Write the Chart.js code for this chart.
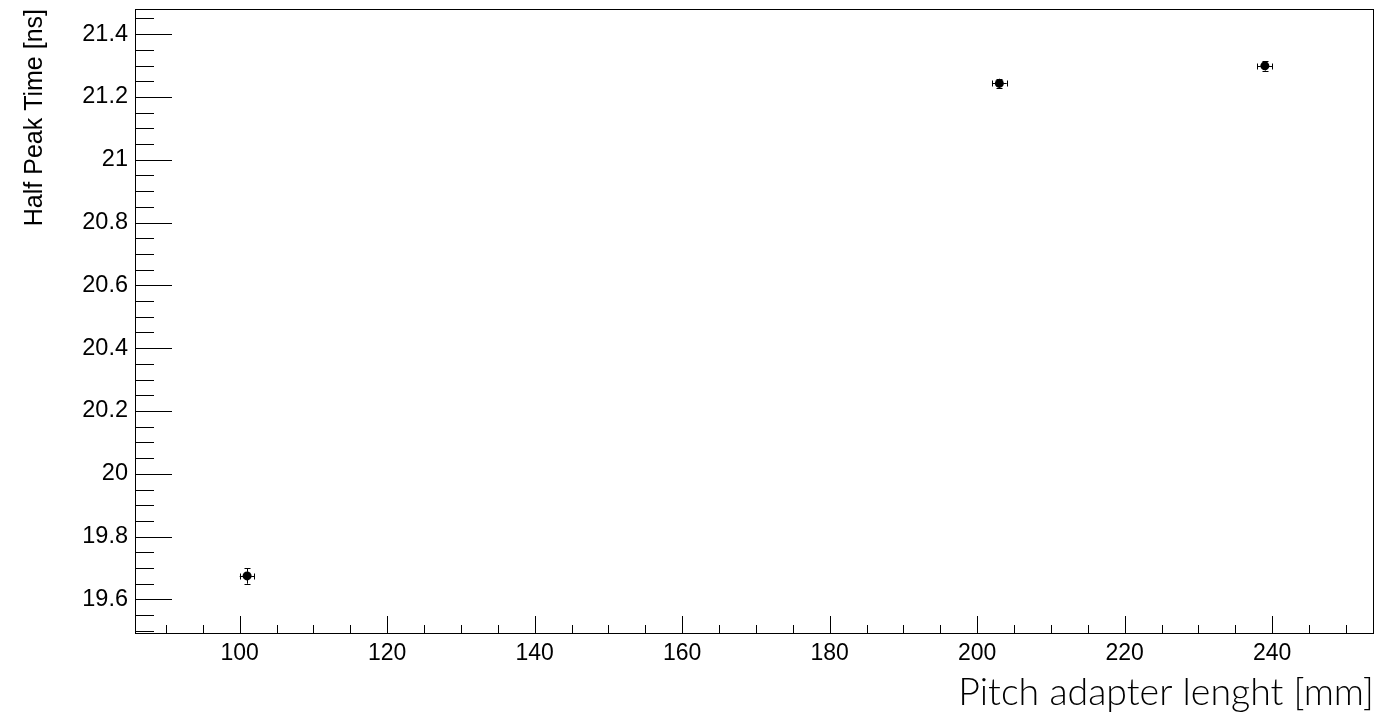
<!DOCTYPE html>
<html>
<head>
<meta charset="utf-8">
<title>Half Peak Time vs Pitch adapter length</title>
<script src="https://cdn.jsdelivr.net/npm/chart.js@4.4.1/dist/chart.umd.min.js"></script>
<style>
  html, body { margin: 0; padding: 0; background: #fff; }
  #wrap { width: 1380px; height: 713px; position: relative; }
</style>
</head>
<body>
<div id="wrap"><canvas id="c" width="1380" height="713"></canvas></div>
<script>
// Measurements: pitch adapter length [mm] vs half peak time [ns]
const pitchLength  = [101, 203, 239];
const lengthErr    = [1, 1, 1];
const halfPeakTime = [19.675, 21.243, 21.299];
const timeErr      = [0.025, 0.015, 0.015];

// Axis ranges and labelled ticks
const xRange = [85.8, 253.8];
const yRange = [19.49, 21.48];
const xTickValues = [100, 120, 140, 160, 180, 200, 220, 240];
const xTickLabels = ['100', '120', '140', '160', '180', '200', '220', '240'];
const yTickValues = [19.6, 19.8, 20.0, 20.2, 20.4, 20.6, 20.8, 21.0, 21.2, 21.4];
const yTickLabels = ['19.6', '19.8', '20', '20.2', '20.4', '20.6', '20.8', '21', '21.2', '21.4'];
const xMinorStep = 5;
const yMinorStep = 0.05;

const points = pitchLength.map((x, i) => ({ x: x, y: halfPeakTime[i], ex: lengthErr[i], ey: timeErr[i] }));

// Frame, inward ticks and error bars in the style of a physics analysis plot
const framePlugin = {
  id: 'frame',
  afterDraw(chart) {
    const ctx = chart.ctx;
    const a = chart.chartArea;
    const xs = chart.scales.x, ys = chart.scales.y;
    ctx.save();
    ctx.strokeStyle = '#000';
    ctx.lineWidth = 1;
    // frame
    ctx.strokeRect(Math.round(a.left) + 0.5, Math.round(a.top) + 0.5,
                   Math.round(a.right - a.left) - 1, Math.round(a.bottom - a.top) - 1);
    ctx.beginPath();
    // x ticks (pointing up from the bottom edge)
    const xStart = Math.ceil(xRange[0] / xMinorStep) * xMinorStep;
    for (let v = xStart; v <= xRange[1] + 1e-9; v += xMinorStep) {
      const px = Math.round(xs.getPixelForValue(v)) + 0.5;
      const major = Math.abs(v / 20 - Math.round(v / 20)) < 1e-6;
      const len = major ? 18 : 9;
      ctx.moveTo(px, a.bottom);
      ctx.lineTo(px, a.bottom - len);
    }
    // y ticks (pointing right from the left edge)
    const yStart = Math.ceil(yRange[0] / yMinorStep - 1e-6) * yMinorStep;
    for (let v = yStart; v <= yRange[1] + 1e-9; v += yMinorStep) {
      const py = Math.round(ys.getPixelForValue(v)) + 0.5;
      const major = Math.abs(v / 0.2 - Math.round(v / 0.2)) < 1e-6;
      const len = major ? 37 : 19;
      ctx.moveTo(a.left, py);
      ctx.lineTo(a.left + len, py);
    }
    ctx.stroke();

    // error bars with end caps
    const r = 4, cap = 3;
    ctx.beginPath();
    points.forEach(p => {
      const cx = xs.getPixelForValue(p.x);
      const cy = ys.getPixelForValue(p.y);
      const x1 = xs.getPixelForValue(p.x - p.ex);
      const x2 = xs.getPixelForValue(p.x + p.ex);
      const y1 = ys.getPixelForValue(p.y + p.ey);
      const y2 = ys.getPixelForValue(p.y - p.ey);
      const rcx = Math.round(cx) + 0.5, rcy = Math.round(cy) + 0.5;
      ctx.moveTo(x1, rcy); ctx.lineTo(cx - r, rcy);
      ctx.moveTo(cx + r, rcy); ctx.lineTo(x2, rcy);
      ctx.moveTo(Math.round(x1) + 0.5, rcy - cap); ctx.lineTo(Math.round(x1) + 0.5, rcy + cap);
      ctx.moveTo(Math.round(x2) + 0.5, rcy - cap); ctx.lineTo(Math.round(x2) + 0.5, rcy + cap);
      ctx.moveTo(rcx, y1); ctx.lineTo(rcx, cy - r);
      ctx.moveTo(rcx, cy + r); ctx.lineTo(rcx, y2);
      ctx.moveTo(rcx - cap, Math.round(y1) + 0.5); ctx.lineTo(rcx + cap, Math.round(y1) + 0.5);
      ctx.moveTo(rcx - cap, Math.round(y2) + 0.5); ctx.lineTo(rcx + cap, Math.round(y2) + 0.5);
    });
    ctx.stroke();
    ctx.restore();
  }
};

new Chart(document.getElementById('c'), {
  type: 'scatter',
  data: {
    datasets: [{
      label: 'Half Peak Time',
      data: points,
      pointRadius: 4.5,
      pointHoverRadius: 4.5,
      pointBackgroundColor: '#000',
      pointBorderColor: '#000',
      pointBorderWidth: 0,
      showLine: false
    }]
  },
  options: {
    responsive: false,
    animation: false,
    devicePixelRatio: 1,
    layout: { padding: { top: 9, right: 6, bottom: 0, left: 0 } },
    plugins: {
      legend: { display: false },
      tooltip: { enabled: false }
    },
    scales: {
      x: {
        type: 'linear',
        min: xRange[0],
        max: xRange[1],
        afterFit(scale) { scale.height = 79; scale.paddingLeft = 0; scale.paddingRight = 0; },
        afterBuildTicks(scale) { scale.ticks = xTickValues.map(v => ({ value: v })); },
        grid: { display: false, drawTicks: false },
        border: { display: false },
        ticks: {
          padding: 6,
          color: '#000',
          maxRotation: 0,
          autoSkip: false,
          font: { family: '"Liberation Sans", Arial, sans-serif', size: 23 },
          callback: (v, i) => xTickLabels[i]
        },
        title: {
          display: true,
          text: 'Pitch adapter lenght [mm]',
          align: 'end',
          color: '#000',
          font: { family: 'Lato, "Open Sans", sans-serif', size: 37.5, weight: '300', lineHeight: 1.2 },
          padding: { top: 0, bottom: -2 }
        }
      },
      y: {
        type: 'linear',
        min: yRange[0],
        max: yRange[1],
        afterFit(scale) { scale.width = 135; scale.paddingTop = 0; scale.paddingBottom = 0; },
        afterBuildTicks(scale) { scale.ticks = yTickValues.map(v => ({ value: v })); },
        grid: { display: false, drawTicks: false },
        border: { display: false },
        ticks: {
          padding: 7,
          color: '#000',
          autoSkip: false,
          font: { family: '"Liberation Sans", Arial, sans-serif', size: 23.5 },
          callback: (v, i) => yTickLabels[i]
        },
        title: {
          display: true,
          text: 'Half Peak Time [ns]',
          align: 'end',
          color: '#000',
          font: { family: '"Liberation Sans", Arial, sans-serif', size: 25, lineHeight: 1.2 },
          padding: { top: 20, bottom: 0 }
        }
      }
    }
  },
  plugins: [framePlugin]
});
</script>
</body>
</html>
